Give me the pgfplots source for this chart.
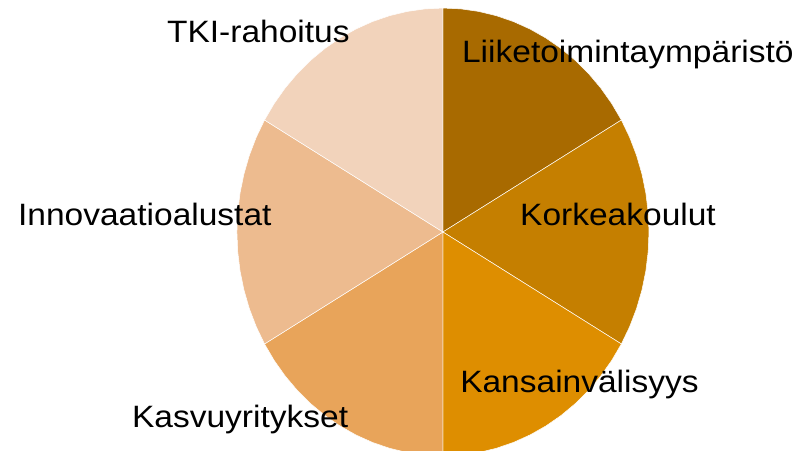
\documentclass[border=0pt]{standalone}
\usepackage{pgfplots}
\pgfplotsset{compat=1.18}
\usepackage{fontspec}
\setmainfont{Liberation Sans}
\definecolor{c1}{RGB}{168,106,0}
\definecolor{c2}{RGB}{197,127,0}
\definecolor{c3}{RGB}{222,142,0}
\definecolor{c4}{RGB}{232,164,90}
\definecolor{c5}{RGB}{237,187,143}
\definecolor{c6}{RGB}{242,211,187}
\tikzset{lbl/.style={anchor=base west, inner sep=0pt, xscale=1.085, text=black, font=\fontsize{31}{31}\selectfont}}
\begin{document}
\begin{tikzpicture}
\begin{axis}[
  at={(0,0)}, anchor=south west,
  scale only axis, width=808bp, height=451bp,
  xmin=-2.150, xmax=1.772, ymin=-0.978, ymax=1.036,
  hide axis, clip=true,
  every axis plot/.append style={draw=white, line width=0.5pt, data cs=polar},
]
% Liiketoimintaympäristö
\addplot[fill=c1] coordinates {(0,0) (90,1) (85,1) (80,1) (75,1) (70,1) (65,1) (60,1) (55,1) (50,1) (45,1) (40,1) (35,1) (30,1)} -- cycle;
% Korkeakoulut
\addplot[fill=c2] coordinates {(0,0) (30,1) (25,1) (20,1) (15,1) (10,1) (5,1) (0,1) (-5,1) (-10,1) (-15,1) (-20,1) (-25,1) (-30,1)} -- cycle;
% Kansainvälisyys
\addplot[fill=c3] coordinates {(0,0) (-30,1) (-35,1) (-40,1) (-45,1) (-50,1) (-55,1) (-60,1) (-65,1) (-70,1) (-75,1) (-80,1) (-85,1) (-90,1)} -- cycle;
% Kasvuyritykset
\addplot[fill=c4] coordinates {(0,0) (-90,1) (-95,1) (-100,1) (-105,1) (-110,1) (-115,1) (-120,1) (-125,1) (-130,1) (-135,1) (-140,1) (-145,1) (-150,1)} -- cycle;
% Innovaatioalustat
\addplot[fill=c5] coordinates {(0,0) (210,1) (205,1) (200,1) (195,1) (190,1) (185,1) (180,1) (175,1) (170,1) (165,1) (160,1) (155,1) (150,1)} -- cycle;
% TKI-rahoitus
\addplot[fill=c6] coordinates {(0,0) (150,1) (145,1) (140,1) (135,1) (130,1) (125,1) (120,1) (115,1) (110,1) (105,1) (100,1) (95,1) (90,1)} -- cycle;
\node[lbl] at (axis cs:0.092,0.759) {Liiketoimintaympäristö};
\node[lbl] at (axis cs:-1.340,0.848) {TKI-rahoitus};
\node[lbl] at (axis cs:-2.063,0.031) {Innovaatioalustat};
\node[lbl] at (axis cs:0.374,0.031) {Korkeakoulut};
\node[lbl] at (axis cs:0.083,-0.719) {Kansainvälisyys};
\node[lbl] at (axis cs:-1.510,-0.871) {Kasvuyritykset};
\end{axis}
\pgfresetboundingbox
\path (0,0) rectangle (808bp,451bp);
\end{tikzpicture}
\end{document}
